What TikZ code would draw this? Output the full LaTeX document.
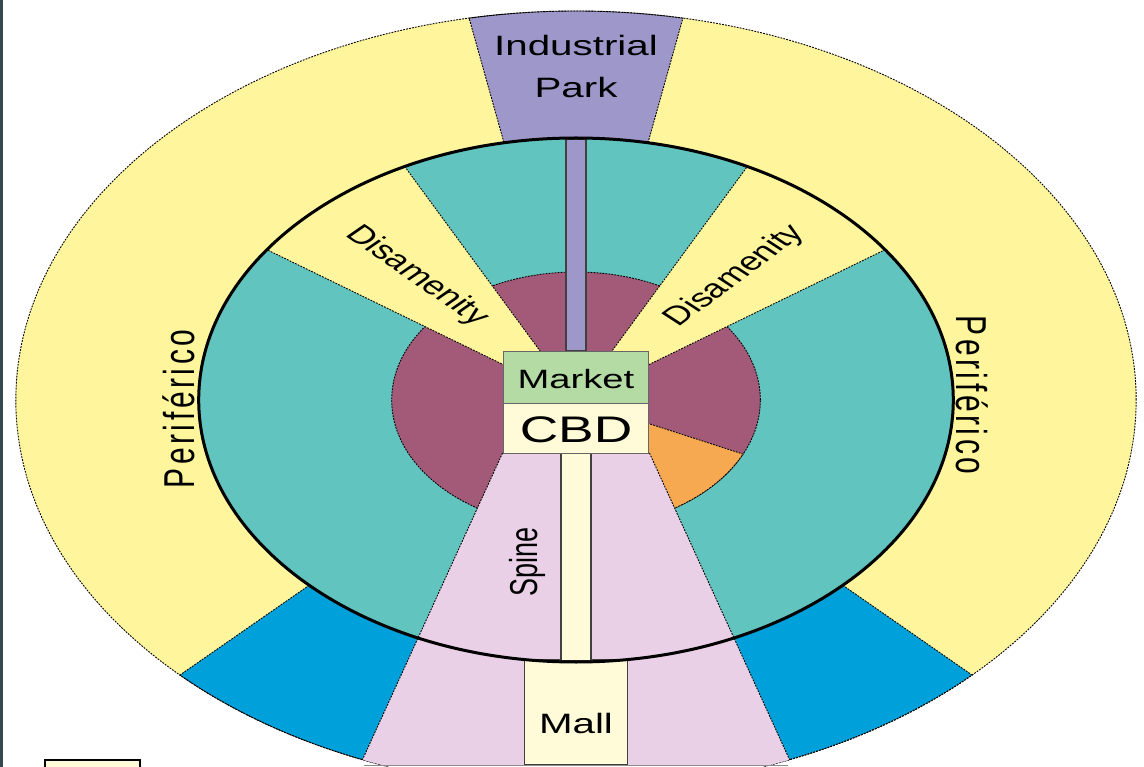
\documentclass[tikz,border=0pt]{standalone}
\usepackage{fontspec}
\setmainfont{Liberation Sans}
\newfontfamily\periffont[LetterSpace=12]{Liberation Sans}

\definecolor{periyellow}{HTML}{FEF59C}
\definecolor{zoneteal}{HTML}{62C4BF}
\definecolor{zonemaroon}{HTML}{A35A78}
\definecolor{parkpurple}{HTML}{9E97C9}
\definecolor{zoneblue}{HTML}{00A0DA}
\definecolor{spinepink}{HTML}{E9D0E6}
\definecolor{zoneorange}{HTML}{F6A951}
\definecolor{marketgreen}{HTML}{B4DBA4}
\definecolor{cbdcream}{HTML}{FFFBD8}
\definecolor{frameslate}{HTML}{37474F}

\tikzset{
  zoneedge/.style={draw=black, line width=0.9pt, dash pattern=on 1.8pt off 1.2pt},
  roadedge/.style={draw=black!75, line width=1.3pt},
  cellbox/.style={draw=black!60, line width=0.8pt, minimum width=101pt, inner sep=0pt, transform shape},
  zonetext/.style={inner sep=0pt, text=black, transform shape}
}

\begin{document}
\begin{tikzpicture}[x=1pt, y=1pt, xscale=1.44]

    % Define the radii of the rings (the whole model is stretched sideways)
    \def\Rout{389}
    \def\Rin{262}
    \def\Rcore{128}

    % Define the centre of the city
    \coordinate (O) at (0,0);

    % Page frame, with the dark strip on the left
    \useasboundingbox (-400,-367) rectangle (394.44,400);
    \clip (-400,-367) rectangle (394.44,400);
    \fill[frameslate] (-400,-367) rectangle (-397.9,400);

    % Outer ring: the periferico
    \fill[periyellow] (O) circle (\Rout);

    % Industrial park wedge at the top of the outer ring
    \filldraw[fill=parkpurple, zoneedge] (79:\Rin) -- (79:\Rout)
        arc[start angle=79, end angle=101, radius=\Rout] -- (101:\Rin);

    % Blue wedges at the bottom of the outer ring
    \filldraw[fill=zoneblue, zoneedge] (225:\Rin) -- (225:\Rout)
        arc[start angle=225, end angle=270, radius=\Rout] -- (270:\Rin);
    \filldraw[fill=zoneblue, zoneedge] (315:\Rin) -- (315:\Rout)
        arc[start angle=315, end angle=270, radius=\Rout] -- (270:\Rin);

    \draw[zoneedge] (O) circle (\Rout);

    % Middle ring and core
    \fill[zoneteal] (O) circle (\Rin);
    \filldraw[fill=zonemaroon, zoneedge] (O) circle (\Rcore);
    \filldraw[fill=zoneorange, zoneedge] (O) -- (-25:\Rcore)
        arc[start angle=-25, end angle=-65, radius=\Rcore] -- cycle;

    % Disamenity wedges
    \filldraw[fill=periyellow, zoneedge] (O) -- (117:\Rin)
        arc[start angle=117, end angle=145, radius=\Rin] -- cycle;
    \filldraw[fill=periyellow, zoneedge] (O) -- (35:\Rin)
        arc[start angle=35, end angle=63, radius=\Rin] -- cycle;

    % Spine sector running down from the CBD, cut flat at the bottom
    \begin{scope}
        \clip (O) circle (\Rout);
        \fill[spinepink] (-51,-53) -- (51,-53) -- (150,-365) -- (-150,-365) -- cycle;
        \fill[white] (-160,-365) rectangle (160,-372);
        \draw[zoneedge] (-51,-53) -- (-150,-365);
        \draw[zoneedge] (51,-53) -- (150,-365);
    \end{scope}

    % Mall, spine road and the road to the industrial park
    \filldraw[fill=cbdcream, roadedge] (-36,-259.5) rectangle (36,-365);
    \filldraw[fill=cbdcream, roadedge] (-10.5,-53) rectangle (10.5,-261);
    \filldraw[fill=parkpurple, roadedge] (-7,49) rectangle (7,261);
    \draw[black!45, line width=0.8pt] (-147,-365) -- (147,-365);

    % Inner ring outline
    \draw[line width=3pt] (O) circle (\Rin);

    % Market and CBD boxes
    \node[cellbox, fill=marketgreen, minimum height=52pt] (market) at (0,23) {};
    \node[cellbox, fill=cbdcream, minimum height=50pt] (cbd) at (0,-28) {};

    % Labels
    \node[zonetext, font=\fontsize{26.5}{26.5}\selectfont, anchor=base] (marketlbl) at (0,11) {Market};
    \node[zonetext, font=\fontsize{37}{37}\selectfont, anchor=base] (cbdlbl) at (0,-43) {CBD};
    \node[zonetext, font=\fontsize{28}{28}\selectfont, anchor=base] (malllbl) at (0,-333) {Mall};
    \node[zonetext, font=\fontsize{27}{27}\selectfont, anchor=base, rotate=90] (spinelbl) at (-27,-162) {Spine};
    \node[zonetext, font=\fontsize{28}{42}\selectfont, align=center] (parklbl) at (0,334) {Industrial\\Park};
    \node[zonetext, font=\fontsize{26}{26}\selectfont, rotate=-45] (disleft) at (131.7:166) {Disamenity};
    \node[zonetext, font=\fontsize{26}{26}\selectfont, rotate=47] (disright) at (48.3:166) {Disamenity};
    \node[zonetext, font=\periffont\fontsize{30}{30}\selectfont, anchor=base, rotate=90] (perileft) at (-265,-9) {Periférico};
    \node[zonetext, font=\periffont\fontsize{30}{30}\selectfont, anchor=base, rotate=-90] (periright) at (264,5) {Periférico};

    % Legend box, cut by the bottom edge
    \filldraw[fill=cbdcream, draw=black, line width=1.2pt] (-368.7,-360) rectangle (-302.8,-380);

\end{tikzpicture}
\end{document}
